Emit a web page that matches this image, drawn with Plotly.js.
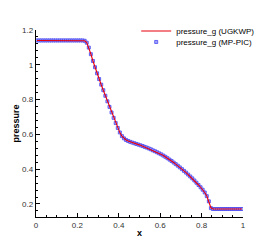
<!DOCTYPE html>
<html><head><meta charset="utf-8">
<script src="https://cdn.plot.ly/plotly-3.0.1.min.js"></script>
<style>html,body{margin:0;padding:0;background:#fff}#c{width:276px;height:245px}</style>
</head><body><div id="c"></div>
<script>
// cell centres x = 0.005 ... 0.995 (100 cells)
const xCells = [0.005,0.015,0.025,0.035,0.045,0.055,0.065,0.075,0.085,0.095,
0.105,0.115,0.125,0.135,0.145,0.155,0.165,0.175,0.185,0.195,
0.205,0.215,0.225,0.235,0.245,0.255,0.265,0.275,0.285,0.295,
0.305,0.315,0.325,0.335,0.345,0.355,0.365,0.375,0.385,0.395,
0.405,0.415,0.425,0.435,0.445,0.455,0.465,0.475,0.485,0.495,
0.505,0.515,0.525,0.535,0.545,0.555,0.565,0.575,0.585,0.595,
0.605,0.615,0.625,0.635,0.645,0.655,0.665,0.675,0.685,0.695,
0.705,0.715,0.725,0.735,0.745,0.755,0.765,0.775,0.785,0.795,
0.805,0.815,0.825,0.835,0.845,0.855,0.865,0.875,0.885,0.895,
0.905,0.915,0.925,0.935,0.945,0.955,0.965,0.975,0.985,0.995];
const pressureUGKWP = [1.14,1.14,1.14,1.14,1.14,1.14,1.14,1.14,1.14,1.14,
1.14,1.14,1.14,1.14,1.14,1.14,1.14,1.14,1.14,1.14,
1.14,1.14,1.14,1.138,1.128,1.10,1.062,1.022,0.985,0.950,
0.918,0.885,0.854,0.822,0.790,0.758,0.726,0.695,0.665,0.636,
0.610,0.590,0.577,0.568,0.562,0.557,0.553,0.549,0.545,0.541,
0.537,0.532,0.528,0.524,0.519,0.514,0.508,0.503,0.497,0.491,
0.485,0.478,0.471,0.463,0.455,0.447,0.438,0.429,0.420,0.410,
0.400,0.390,0.380,0.369,0.358,0.347,0.335,0.322,0.309,0.296,
0.282,0.266,0.246,0.214,0.178,0.171,0.171,0.171,0.171,0.171,
0.171,0.171,0.171,0.171,0.171,0.171,0.171,0.171,0.171,0.171];
const pressureMPPIC = [1.14,1.14,1.14,1.14,1.14,1.14,1.14,1.14,1.14,1.14,
1.14,1.14,1.14,1.14,1.14,1.14,1.14,1.14,1.14,1.14,
1.14,1.14,1.14,1.138,1.127,1.099,1.061,1.022,0.986,0.951,
0.918,0.886,0.854,0.822,0.790,0.758,0.726,0.695,0.665,0.637,
0.611,0.590,0.577,0.568,0.562,0.557,0.553,0.549,0.545,0.541,
0.537,0.533,0.528,0.524,0.519,0.514,0.508,0.503,0.497,0.491,
0.485,0.478,0.471,0.463,0.455,0.447,0.438,0.429,0.420,0.410,
0.400,0.390,0.380,0.369,0.358,0.347,0.335,0.322,0.309,0.296,
0.282,0.266,0.245,0.215,0.176,0.171,0.171,0.171,0.171,0.171,
0.171,0.171,0.171,0.171,0.171,0.171,0.171,0.171,0.171,0.171];
const seriesNames = ['pressure_g (UGKWP)','pressure_g (MP-PIC)'];
const xTicks = [0,0.2,0.4,0.6,0.8,1];
const xTickText = ['0','0.2','0.4','0.6','0.8','1'];
const yTicks = [0.2,0.4,0.6,0.8,1,1.2];
const yTickText = ['0.2','0.4','0.6','0.8','1','1.2'];

const font = 'Liberation Sans, Arial, sans-serif';
const traces = [
  {x:xCells, y:pressureMPPIC, name:seriesNames[1], mode:'markers', type:'scatter',
   marker:{symbol:'square', size:3, color:'rgba(165,165,255,1)', line:{color:'#4848f0', width:0.8}},
   legend:'legend2'},
  {x:xCells, y:pressureUGKWP, name:seriesNames[0], mode:'lines', type:'scatter',
   line:{color:'#e8000b', width:1.1}, legend:'legend'}
];
const axisBase = {showline:true, linecolor:'#000', linewidth:1.3, ticks:'inside', ticklen:4,
  tickcolor:'#000', tickwidth:1, showgrid:false, zeroline:false, mirror:false,
  tickfont:{family:font, size:8, color:'#333'}};
const legBase = {xanchor:'left', yanchor:'middle', bgcolor:'rgba(0,0,0,0)',
  font:{family:font, size:8, color:'#000'}, itemwidth:30, borderwidth:0};
const layout = {
  width:276, height:245, margin:{l:36, r:33, t:30, b:28},
  paper_bgcolor:'#fff', plot_bgcolor:'#fff', showlegend:true,
  xaxis:Object.assign({}, axisBase, {range:[0,1], tickvals:xTicks, ticktext:xTickText,
    minor:{dtick:0.05, ticks:'inside', ticklen:2, tickcolor:'#000', showgrid:false},
    title:{text:'<b>x</b>', font:{family:font, size:9, color:'#000'}, standoff:0}}),
  yaxis:Object.assign({}, axisBase, {range:[0.125,1.2], tickvals:yTicks, ticktext:yTickText,
    minor:{dtick:0.04, tick0:0, ticks:'inside', ticklen:2, tickcolor:'#000', showgrid:false},
    title:{text:'<b>pressure</b>', font:{family:font, size:9, color:'#000'}, standoff:0}}),
  legend:Object.assign({}, legBase, {x:0.484, y:0.995}),
  legend2:Object.assign({}, legBase, {x:0.484, y:0.936})
};
Plotly.newPlot('c', traces, layout, {staticPlot:true, displayModeBar:false});
</script></body></html>
